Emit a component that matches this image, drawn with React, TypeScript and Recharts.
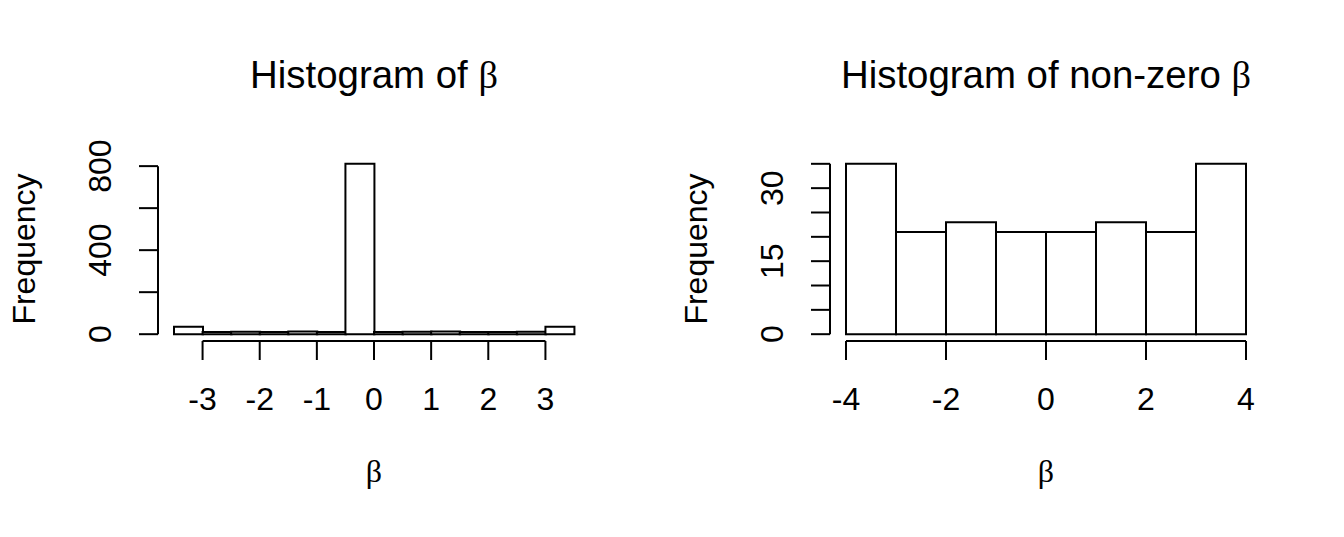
import React from 'react';
import { BarChart, Bar, XAxis, YAxis, ReferenceLine } from 'recharts';

// ---- data ----
const leftBinCenters = [-3.25, -2.75, -2.25, -1.75, -1.25, -0.75, -0.25, 0.25, 0.75, 1.25, 1.75, 2.25, 2.75, 3.25];
const leftCounts = [35, 10, 11, 10, 13, 10, 811, 10, 11, 13, 10, 10, 11, 35];
const leftBinWidth = 0.5;
const leftXTicks = [-3, -2, -1, 0, 1, 2, 3];
const leftYTicks = [0, 200, 400, 600, 800];
const leftYLabels = [0, 400, 800];

const rightBinCenters = [-3.5, -2.5, -1.5, -0.5, 0.5, 1.5, 2.5, 3.5];
const rightCounts = [35, 21, 23, 21, 21, 23, 21, 35];
const rightBinWidth = 1;
const rightXTicks = [-4, -2, 0, 2, 4];
const rightYTicks = [0, 5, 10, 15, 20, 25, 30, 35];
const rightYLabels = [0, 15, 30];

const leftTitle = 'Histogram of ';
const rightTitle = 'Histogram of non-zero ';
const betaSymbol = 'β';
const yTitle = 'Frequency';

// ---- layout / style ----
const PANEL_W = 672;
const H = 537;
const MARGIN = { top: 157, right: 82, bottom: 0, left: 58 };
const Y_AXIS_W = 100;
const X_AXIS_H = 196;
const SANS = '"Liberation Sans", Arial, Helvetica, sans-serif';
const SERIF = '"Liberation Serif", "Times New Roman", serif';
const AXIS_FONT = 32;
const TITLE_FONT = 38.4;
const TICK_LEN = 19;
const LW = 2;

interface PanelProps {
  centers: number[];
  counts: number[];
  binWidth: number;
  xTicks: number[];
  yTicks: number[];
  yLabels: number[];
  title: string;
  left: number;
}

const Panel = ({ centers, counts, binWidth, xTicks, yTicks, yLabels, title, left }: PanelProps) => {
  const data = centers.map((c, i) => ({ x: c, count: counts[i] }));
  const xMin = centers[0] - binWidth / 2;
  const xMax = centers[centers.length - 1] + binWidth / 2;
  const xPad = 0.04 * (xMax - xMin);
  const xDomain: [number, number] = [xMin - xPad, xMax + xPad];
  const yMax = Math.max(...counts);
  const yDomain: [number, number] = [-0.04 * yMax, 1.04 * yMax];
  const plotLeft = MARGIN.left + Y_AXIS_W;
  const plotW = PANEL_W - plotLeft - MARGIN.right;
  const plotCx = plotLeft + plotW / 2;

  const YTick = (props: any) => {
    const { x, y, payload } = props;
    if (!yLabels.includes(payload.value)) return <g />;
    return (
      <text x={x} y={y} transform={`rotate(-90 ${x} ${y})`} textAnchor="middle" fontSize={AXIS_FONT} fontFamily={SANS} fill="#000">
        {String(payload.value)}
      </text>
    );
  };
  const XTick = (props: any) => {
    const { x, y, payload } = props;
    return (
      <text x={x} y={y} textAnchor="middle" fontSize={AXIS_FONT} fontFamily={SANS} fill="#000">
        {String(payload.value)}
      </text>
    );
  };

  return (
    <div style={{ position: 'absolute', left, top: 0, width: PANEL_W, height: H }}>
      <BarChart width={PANEL_W} height={H} data={data} margin={MARGIN} barCategoryGap={0} barGap={0}>
        <XAxis
          dataKey="x"
          type="number"
          domain={xDomain}
          allowDataOverflow
          ticks={xTicks}
          interval={0}
          height={X_AXIS_H}
          axisLine={false}
          tickLine={{ stroke: '#000', strokeWidth: LW }}
          tickSize={TICK_LEN}
          tickMargin={50}
          tick={<XTick />}
          label={{
            content: (p: any) => {
              const vb = p.viewBox || {};
              return (
                <text x={vb.x + vb.width / 2} y={vb.y + 141} textAnchor="middle" fontSize={AXIS_FONT} fontFamily={SERIF} fill="#000">
                  {betaSymbol}
                </text>
              );
            },
          }}
        />
        <YAxis
          type="number"
          domain={yDomain}
          allowDataOverflow
          ticks={yTicks}
          interval={0}
          width={Y_AXIS_W}
          axisLine={false}
          tickLine={{ stroke: '#000', strokeWidth: LW }}
          tickSize={TICK_LEN}
          tickMargin={28}
          tick={<YTick />}
          label={{
            content: (p: any) => {
              const vb = p.viewBox || {};
              const ax = vb.x + vb.width - 123;
              const cy = vb.y + vb.height / 2;
              return (
                <text x={ax} y={cy} transform={`rotate(-90 ${ax} ${cy})`} textAnchor="middle" fontSize={AXIS_FONT} fontFamily={SANS} fill="#000">
                  {yTitle}
                </text>
              );
            },
          }}
        />
        <Bar dataKey="count" fill="#fff" stroke="#000" strokeWidth={LW} isAnimationActive={false} />
        <ReferenceLine
          segment={[{ x: xDomain[0], y: yTicks[0] }, { x: xDomain[0], y: yTicks[yTicks.length - 1] }]}
          stroke="#000"
          strokeWidth={LW}
          ifOverflow="visible"
        />
        <ReferenceLine
          segment={[{ x: xTicks[0], y: yDomain[0] }, { x: xTicks[xTicks.length - 1], y: yDomain[0] }]}
          stroke="#000"
          strokeWidth={LW}
          ifOverflow="visible"
        />
      </BarChart>
      <svg width={PANEL_W} height={H} style={{ position: 'absolute', left: 0, top: 0, pointerEvents: 'none' }}>
        <text x={plotCx} y={88} textAnchor="middle" fontSize={TITLE_FONT} fontFamily={SANS} fill="#000">
          {title}
          <tspan fontFamily={SERIF}>{betaSymbol}</tspan>
        </text>
      </svg>
    </div>
  );
};

export default function App() {
  return (
    <div style={{ position: 'absolute', left: 0, top: 0, width: PANEL_W * 2, height: H, background: '#fff' }}>
      <Panel
        centers={leftBinCenters}
        counts={leftCounts}
        binWidth={leftBinWidth}
        xTicks={leftXTicks}
        yTicks={leftYTicks}
        yLabels={leftYLabels}
        title={leftTitle}
        left={0}
      />
      <Panel
        centers={rightBinCenters}
        counts={rightCounts}
        binWidth={rightBinWidth}
        xTicks={rightXTicks}
        yTicks={rightYTicks}
        yLabels={rightYLabels}
        title={rightTitle}
        left={PANEL_W}
      />
    </div>
  );
}
